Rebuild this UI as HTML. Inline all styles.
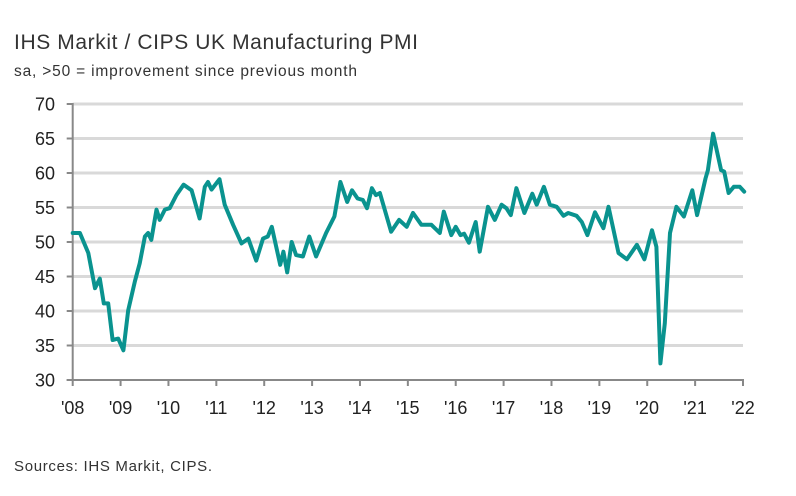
<!DOCTYPE html>
<html><head><meta charset="utf-8">
<style>
body{margin:0;background:#fff;width:796px;height:491px;overflow:hidden;font-family:"Liberation Sans",sans-serif;}
</style></head>
<body>
<svg id="chart" width="796" height="491" xmlns="http://www.w3.org/2000/svg">
<text x="14" y="49" font-size="21" fill="#333" textLength="404">IHS Markit / CIPS UK Manufacturing PMI</text>
<text x="14" y="76" font-size="15.5" fill="#333" textLength="343">sa, &gt;50 = improvement since previous month</text>
<text x="14" y="471" font-size="15" fill="#333" textLength="198">Sources: IHS Markit, CIPS.</text>
<g id="grid"></g><g id="axes"></g><g id="series"></g>
</svg>
<script>
const yTicks=[30,35,40,45,50,55,60,65,70];
const xLabels=["'08","'09","'10","'11","'12","'13","'14","'15","'16","'17","'18","'19","'20","'21","'22"];
const months=[0,1.8,3.9,5.6,6.8,7.8,8.9,10,11.4,12.7,13.9,15.6,16.8,18.1,18.9,19.7,21,21.8,23.1,24.3,26,27.8,29.8,31.8,33.1,33.9,34.8,36.8,38.1,40.2,42.3,44,46,47.7,48.9,49.9,52,52.8,53.75,54.9,56,57.7,59.3,61,63.5,65.6,67.1,68.8,70,71.4,72.7,73.75,75,76,77,79.8,81.8,83.7,85.3,87.4,89.9,92,93,94.9,96,97.2,98.1,99.3,101,102,104.1,105.8,107.5,108.7,109.8,111.2,113.2,115.2,116.3,118.1,119.6,121.3,123,124.2,126.3,127.6,129,130.9,133,134.3,136.8,138.9,141.4,143.3,145.2,146.3,147.3,148.4,149.7,151.3,153.2,155.3,156.5,158.6,159.2,160.5,162.5,163.3,164.4,165.7,167.2,168.3];
const pmi=[51.3,51.3,48.4,43.3,44.7,41.1,41.1,35.8,36.0,34.3,40.1,44.3,46.9,50.8,51.3,50.3,54.7,53.2,54.7,54.9,56.8,58.3,57.5,53.4,58.0,58.7,57.6,59.1,55.4,52.5,49.8,50.5,47.3,50.5,50.8,52.2,46.7,48.6,45.6,50,48.1,47.9,50.8,47.9,51.3,53.7,58.7,55.8,57.5,56.3,56.1,54.9,57.8,56.8,57.1,51.5,53.2,52.2,54.2,52.5,52.5,51.3,54.4,51.0,52.2,51.0,51.2,49.9,52.9,48.6,55.1,53.2,55.4,54.9,53.9,57.8,54.2,57,55.4,58,55.4,55.1,53.8,54.2,53.8,52.9,51,54.3,52,55.1,48.4,47.5,49.6,47.5,51.7,49.3,32.4,38.2,51.3,55.1,53.7,57.5,53.9,59.2,60.4,65.7,60.4,60.2,57.1,58,58,57.3];
const X0=72.7,X1=743,Y0=380,Y1=104;
const xMonth=m=>X0+(X1-X0)*m/168;
const yVal=v=>Y0-(v-30)*(Y0-Y1)/40;
const NS="http://www.w3.org/2000/svg";
function mk(t,a,p){const e=document.createElementNS(NS,t);for(const k in a)e.setAttribute(k,a[k]);p.appendChild(e);return e;}
const grid=document.getElementById('grid'),axes=document.getElementById('axes'),series=document.getElementById('series');
yTicks.forEach(v=>{
 if(v>30){const l=mk('line',{x1:X0,x2:X1,y1:yVal(v),y2:yVal(v),stroke:'#d9d9d9','stroke-width':3},grid);
 
 }
 const tk=mk('line',{x1:X0-6,x2:X0,y1:yVal(v),y2:yVal(v),stroke:'#888','stroke-width':2},axes);
 
 
 const t=mk('text',{x:55,y:yVal(v)+6.5,'font-size':18,'text-anchor':'end',fill:'#222'},axes);
 t.textContent=v;
 
 
});
const ya=mk('line',{x1:X0,x2:X0,y1:Y1-1,y2:Y0,stroke:'#888','stroke-width':2},axes);


const xa=mk('line',{x1:X0-6,x2:X1+1,y1:Y0,y2:Y0,stroke:'#888','stroke-width':2},axes);


xLabels.forEach((s,i)=>{
 const x=xMonth(i*12);
 const tk=mk('line',{x1:x,x2:x,y1:Y0,y2:Y0+6,stroke:'#888','stroke-width':2},axes);
 
 
 const t=mk('text',{x:x,y:414,'font-size':18,'text-anchor':'middle',fill:'#222'},axes);
 t.textContent=s;
 
 
});
const d=months.map((m,i)=>(i?'L':'M')+xMonth(m).toFixed(1)+','+yVal(pmi[i]).toFixed(1)).join(' ');
const p=mk('path',{d:d,fill:'none',stroke:'#0a938f','stroke-width':4,'stroke-linejoin':'round','stroke-linecap':'round'},series);


</script>
</body></html>
